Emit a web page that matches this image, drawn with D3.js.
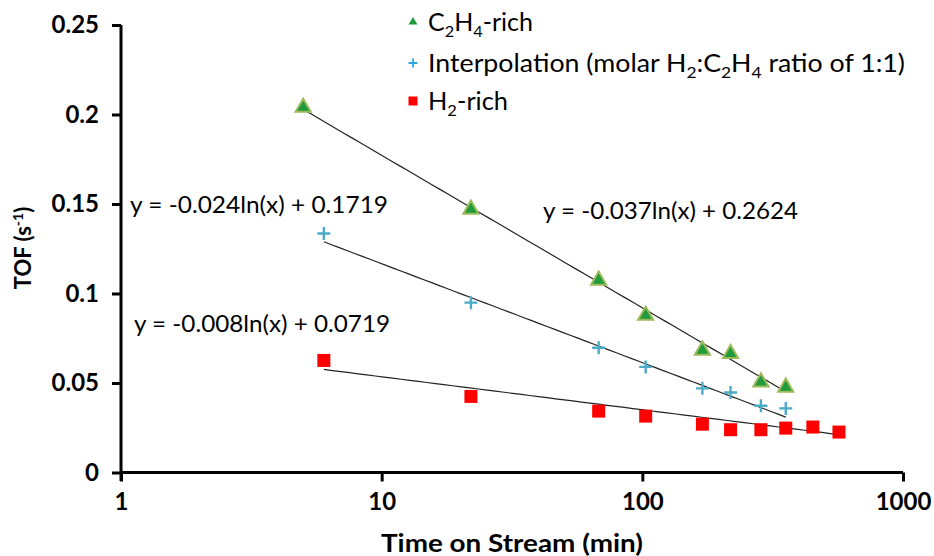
<!DOCTYPE html>
<html><head><meta charset="utf-8">
<script src="https://cdn.jsdelivr.net/npm/d3@7"></script>
<style>body{margin:0;background:#fff}svg{display:block}</style>
</head><body><svg id="c" width="934" height="556"></svg>
<script>
const timeC2H4 = [5, 22, 68, 103, 170, 218, 285, 355];
const tofC2H4 = [0.2034, 0.1465, 0.1068, 0.0872, 0.0677, 0.0658, 0.0500, 0.0470];
const timeInterp = [6, 22, 68, 103, 170, 218, 285, 355];
const tofInterp = [0.1335, 0.0949, 0.0697, 0.0590, 0.0470, 0.0447, 0.0373, 0.0358];
const timeH2 = [6, 22, 68, 103, 170, 218, 285, 355, 451, 568];
const tofH2 = [0.0626, 0.0425, 0.0343, 0.0315, 0.0270, 0.0239, 0.0239, 0.0248, 0.0254, 0.0226];
const fitSlope = [-0.037, -0.024, -0.008];
const fitIntercept = [0.2624, 0.1719, 0.0719];
const fitRange = [[5, 355], [6, 355], [6, 568]];
const xTicks = [1, 10, 100, 1000];
const yTicks = [0, 0.05, 0.1, 0.15, 0.2, 0.25];

const svg = d3.select("#c");
const x = d3.scaleLog().domain([1, 1000]).range([121, 903]);
const y = d3.scaleLinear().domain([0, 0.25]).range([472.5, 25]);
const F = "Lato, 'Open Sans', sans-serif";

// trendlines
fitSlope.forEach((s, i) => {
  const [a, b] = fitRange[i];
  const pts = d3.range(0, 61).map(k => a * Math.pow(b / a, k / 60));
  svg.append("path")
    .attr("d", d3.line().x(d => x(d)).y(d => y(s * Math.log(d) + fitIntercept[i]))(pts))
    .attr("fill", "none").attr("stroke", "#222").attr("stroke-width", 1.2);
});

// axes
const yAxis = svg.append("g").attr("transform", "translate(121,0)")
  .call(d3.axisLeft(y).tickValues(yTicks).tickSize(9).tickPadding(13)
    .tickFormat(d => d === 0 ? "0" : String(d)));
const xAxis = svg.append("g").attr("transform", "translate(0,472.5)")
  .call(d3.axisBottom(x).tickValues(xTicks).tickSize(9).tickPadding(11)
    .tickFormat(d3.format("d")));
[yAxis, xAxis].forEach(g => {
  g.select(".domain").attr("stroke", "#000").attr("stroke-width", 3);
  g.selectAll(".tick line").attr("stroke", "#000").attr("stroke-width", 3);
  g.selectAll(".tick text").attr("fill", "#000").style("font-family", F)
    .style("font-size", "24px").style("font-weight", "bold");
});
yAxis.select(".domain").attr("d", "M0,25V481");
xAxis.select(".domain").attr("d", "M121,0H903");

// markers
const tri = d3.symbol().type(d3.symbolTriangle).size(100);
svg.append("g").selectAll("path").data(timeC2H4.map((t, i) => [t, tofC2H4[i]])).join("path")
  .attr("d", tri).attr("transform", d => `translate(${x(d[0])},${y(d[1]) - 1})`)
  .attr("fill", "#1f9a3c").attr("stroke", "#9bbb59").attr("stroke-width", 2);
const crossG = svg.append("g");
timeInterp.forEach((t, i) => {
  const cx = x(t), cy = y(tofInterp[i]);
  crossG.append("path").attr("d", `M${cx - 6.5},${cy}H${cx + 6.5}M${cx},${cy - 6.5}V${cy + 6.5}`)
    .attr("stroke", "#4bacc6").attr("stroke-width", 2.4);
});
svg.append("g").selectAll("rect").data(timeH2.map((t, i) => [t, tofH2[i]])).join("rect")
  .attr("x", d => x(d[0]) - 6.5).attr("y", d => y(d[1]) - 6.5)
  .attr("width", 13).attr("height", 13).attr("fill", "#ff0000");

// axis titles
svg.append("text").attr("x", 512).attr("y", 552).attr("text-anchor", "middle")
  .style("font-family", F).style("font-size", "24px").style("font-weight", "bold")
  .attr("textLength", 262).attr("lengthAdjust", "spacingAndGlyphs")
  .text("Time on Stream (min)");
const yt = svg.append("text").attr("transform", "translate(31,248) rotate(-90)")
  .attr("text-anchor", "middle").style("font-family", F).style("font-size", "22px").style("font-weight", "bold");
yt.append("tspan").text("TOF (s");
yt.append("tspan").attr("dy", -8).style("font-size", "14px").text("-1");
yt.append("tspan").attr("dy", 8).text(")");

// legend
const lx = 413, rows = [22, 63, 101];
svg.append("path").attr("d", d3.symbol().type(d3.symbolTriangle).size(34)())
  .attr("transform", `translate(${lx},${rows[0]})`).attr("fill", "#1f9a3c");
svg.append("path").attr("d", `M${lx - 4.5},${rows[1]}H${lx + 4.5}M${lx},${rows[1] - 4.5}V${rows[1] + 4.5}`)
  .attr("stroke", "#2ea8e0").attr("stroke-width", 1.8);
svg.append("rect").attr("x", lx - 4.5).attr("y", rows[2] - 4.5).attr("width", 9).attr("height", 9).attr("fill", "#ff0000");

function subText(xx, yy, size, segs) {
  const el = svg.append("text").attr("x", xx).attr("y", yy)
    .style("font-family", F).style("font-size", size + "px").attr("fill", "#000");
  let shifted = false;
  segs.forEach(s => {
    const sub = s.startsWith("_");
    const txt = sub ? s.slice(1) : s;
    const ts = el.append("tspan").text(txt);
    if (sub) {
      ts.style("font-size", (size * 0.65) + "px");
      if (!shifted) { ts.attr("dy", 6); shifted = true; }
    } else if (shifted) { ts.attr("dy", -6); shifted = false; }
  });
  return el;
}
const ls = 25;
subText(428, rows[0] + 9, ls, ["C", "_2", "H", "_4", "-rich"]).attr("textLength", 105).attr("lengthAdjust", "spacingAndGlyphs");
subText(428, rows[1] + 9, ls, ["Interpolation (molar H", "_2", ":C", "_2", "H", "_4", " ratio of 1:1)"])
  .attr("textLength", 477).attr("lengthAdjust", "spacingAndGlyphs");
subText(428, rows[2] + 9, ls, ["H", "_2", "-rich"]).attr("textLength", 80).attr("lengthAdjust", "spacingAndGlyphs");

// equations
const eqs = [
  ["y = -0.024ln(x) + 0.1719", 130, 213, 258],
  ["y = -0.008ln(x) + 0.0719", 134, 332, 256],
  ["y = -0.037ln(x) + 0.2624", 543, 219, 255]
];
eqs.forEach(e => svg.append("text").attr("x", e[1]).attr("y", e[2])
  .style("font-family", F).style("font-size", "23px").attr("fill", "#000")
  .attr("textLength", e[3]).attr("lengthAdjust", "spacingAndGlyphs").text(e[0]));
</script></body></html>
